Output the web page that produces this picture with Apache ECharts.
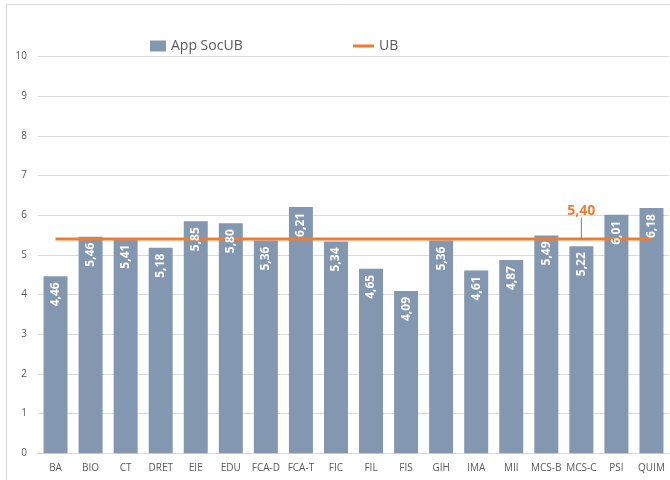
<!DOCTYPE html>
<html>
<head>
<meta charset="utf-8">
<script src="https://cdn.jsdelivr.net/npm/echarts@6/dist/echarts.min.js"></script>
<style>
  html, body { margin: 0; padding: 0; background: #fff; }
  #chart { width: 670px; height: 480px; }
</style>
</head>
<body>
<div id="chart"></div>
<script>
// Faculty codes along the x axis
const categories = ['BA', 'BIO', 'CT', 'DRET', 'EIE', 'EDU', 'FCA-D', 'FCA-T', 'FIC', 'FIL',
                    'FIS', 'GIH', 'IMA', 'MII', 'MCS-B', 'MCS-C', 'PSI', 'QUIM'];
// App SocUB score per faculty
const appSocUB = [4.46, 5.46, 5.41, 5.18, 5.85, 5.80, 5.36, 6.21, 5.34, 4.65,
                  4.09, 5.36, 4.61, 4.87, 5.49, 5.22, 6.01, 6.18];
// University-wide reference value
const ubValue = 5.40;
const ubLabelIndex = 15;
const yTicks = { min: 0, max: 10, interval: 1 };

const fmt = v => v.toFixed(2).replace('.', ',');

const ubData = categories.map((c, i) => i === ubLabelIndex
  ? { value: ubValue, symbol: 'circle', symbolSize: 1,
      itemStyle: { color: 'rgba(0,0,0,0)' },
      label: { show: true } }
  : ubValue);

const chart = echarts.init(document.getElementById('chart'), null, { renderer: 'canvas' });
const axisText = '#595959';
const font = 'Open Sans';

chart.setOption({
  animation: false,
  textStyle: { fontFamily: font },
  graphic: [{
    type: 'rect', silent: true, z: -10,
    shape: { x: 6.5, y: 4.5, width: 720, height: 520 },
    style: { fill: 'none', stroke: '#D9D9D9', lineWidth: 1 }
  }],
  legend: [{
    left: 145, top: 34,
    icon: 'rect',
    itemWidth: 16, itemHeight: 11,
    data: ['App SocUB'],
    textStyle: { fontSize: 14, color: axisText, fontFamily: font }
  }, {
    left: 348, top: 34,
    icon: 'rect',
    itemWidth: 21, itemHeight: 3,
    data: ['UB'],
    textStyle: { fontSize: 14, color: axisText, fontFamily: font }
  }],
  grid: { left: 38, right: 1, top: 56.5, bottom: 26.7 },
  xAxis: {
    type: 'category',
    data: categories,
    axisLine: { lineStyle: { color: '#D9D9D9' } },
    axisTick: { show: false },
    axisLabel: { interval: 0, color: axisText, fontSize: 10, margin: 10, fontFamily: font }
  },
  yAxis: {
    type: 'value',
    min: yTicks.min, max: yTicks.max, interval: yTicks.interval,
    axisLine: { show: false },
    axisTick: { show: false },
    splitLine: { lineStyle: { color: '#D9D9D9' } },
    axisLabel: { color: axisText, fontSize: 10, margin: 11, fontFamily: font }
  },
  series: [{
    name: 'App SocUB',
    type: 'bar',
    data: appSocUB,
    barWidth: 24,
    z: 2,
    itemStyle: { color: '#8497B0' }
  }, {
    name: 'UB',
    type: 'line',
    data: ubData,
    symbol: 'none',
    z: 3,
    lineStyle: { color: '#ED7D31', width: 3 },
    itemStyle: { color: '#ED7D31' },
    label: {
      show: false,
      position: 'top',
      color: '#ED7D31',
      fontWeight: 'bold',
      fontSize: 14,
      fontFamily: font,
      formatter: p => fmt(p.value)
    },
    labelLine: { show: true, lineStyle: { color: '#7F7F7F', width: 1 } },
    labelLayout: { dy: -16 }
  }, {
    // Transparent overlay carrying the value labels above the UB line
    name: 'App SocUB values',
    type: 'bar',
    data: appSocUB,
    barWidth: 24,
    barGap: '-100%',
    z: 4,
    silent: true,
    itemStyle: { color: 'rgba(0,0,0,0)' },
    label: {
      show: true,
      position: 'insideTop',
      rotate: 90,
      align: 'right',
      verticalAlign: 'middle',
      distance: 6,
      color: '#fff',
      fontWeight: 'bold',
      fontSize: 12,
      fontFamily: font,
      formatter: p => fmt(p.value)
    }
  }]
});
</script>
</body>
</html>
